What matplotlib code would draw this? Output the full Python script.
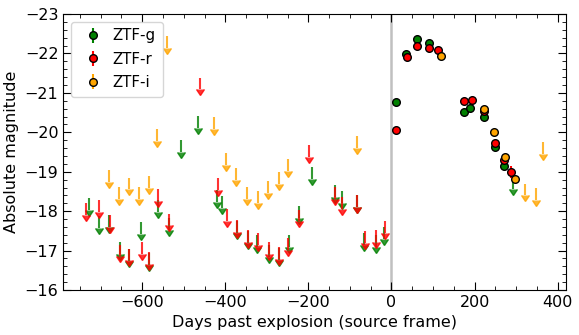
import matplotlib
matplotlib.use("Agg")
import matplotlib.pyplot as plt
from matplotlib.ticker import MultipleLocator
import numpy as np

plt.rcParams['font.family'] = ['DejaVu Sans']
plt.rcParams['font.size'] = 11.5

# ---- detections ----
g_det_t = [10, 34, 62, 90, 175, 189, 223, 249, 271]
g_det_m = [-20.76, -21.98, -22.37, -22.26, -20.51, -20.61, -20.38, -19.62, -19.14]
g_det_e = [0.04, 0.04, 0.04, 0.04, 0.05, 0.05, 0.05, 0.05, 0.06]

r_det_t = [10, 37, 62, 90, 112, 175, 194, 223, 249, 270, 288]
r_det_m = [-20.06, -21.90, -22.20, -22.15, -22.08, -20.79, -20.82, -20.55, -19.74, -19.31, -18.99]
r_det_e = [0.04, 0.04, 0.04, 0.04, 0.04, 0.05, 0.05, 0.05, 0.05, 0.06, 0.15]

i_det_t = [119, 223, 247, 273, 297]
i_det_m = [-21.93, -20.59, -20.00, -19.37, -18.81]
i_det_e = [0.04, 0.08, 0.05, 0.08, 0.08]

# ---- upper limits ----
g_lim_t = [-728, -703, -679, -653, -631, -603, -583, -561, -535, -506, -466, -420, -407,
           -373, -345, -324, -296, -271, -247, -223, -192, -136, -120, -84, -67, -38, -18, 292]
g_lim_m = [-18.33, -17.87, -17.90, -17.22, -17.03, -17.72, -16.94, -18.28, -17.83, -19.80,
           -20.41, -18.53, -18.38, -17.75, -17.50, -17.39, -17.14, -17.07, -17.39, -18.13,
           -19.12, -18.66, -18.51, -18.40, -17.45, -17.39, -17.59, -18.85]

r_lim_t = [-735, -705, -677, -653, -631, -601, -583, -562, -536, -462, -418, -396, -373,
           -345, -322, -296, -271, -248, -223, -199, -136, -119, -84, -64, -38, -16]
r_lim_m = [-18.21, -18.29, -17.90, -17.15, -17.05, -17.21, -16.96, -18.56, -17.94, -21.39,
           -18.84, -18.05, -17.77, -17.52, -17.45, -17.21, -17.09, -17.31, -18.04, -19.68,
           -18.62, -18.36, -18.40, -17.49, -17.52, -17.75]

i_lim_t = [-681, -657, -633, -607, -583, -564, -541, -427, -399, -374, -347, -321, -297,
           -270, -248, -84, 321, 349, 364]
i_lim_m = [-19.04, -18.62, -18.85, -18.62, -18.90, -20.08, -22.44, -20.39, -19.48, -19.10,
           -18.62, -18.51, -18.76, -19.00, -19.32, -19.90, -18.70, -18.58, -19.76]

bands = [
    ("ZTF-g", "green", g_det_t, g_det_m, g_det_e, g_lim_t, g_lim_m),
    ("ZTF-r", "red", r_det_t, r_det_m, r_det_e, r_lim_t, r_lim_m),
    ("ZTF-i", "orange", i_det_t, i_det_m, i_det_e, i_lim_t, i_lim_m),
]

fig = plt.figure(figsize=(5.79, 3.35), dpi=100)
ax = fig.add_axes([0.1093, 0.1343, 0.8682, 0.8238])
ax.set_xlim(-790, 420)
ax.set_ylim(-16, -23)

ax.axvline(0, color='#c0c0c0', lw=1.8, zorder=1)

arrow_len = 0.3
for label, col, dt, dm, de, lt, lm in bands:
    eb = ax.errorbar(lt, lm, yerr=np.full(len(lt), arrow_len), lolims=True, fmt='none',
                     ecolor=col, elinewidth=1.5, capsize=0, alpha=0.8, zorder=2)
    for cl in eb[1]:
        cl.set_markersize(5.5)
        cl.set_color(col)
        cl.set_markerfacecolor(col)
        cl.set_markeredgecolor(col)
for label, col, dt, dm, de, lt, lm in bands:
    ax.errorbar(dt, dm, yerr=de, fmt='o', color=col, mfc=col, mec='black', mew=1.0,
                ms=5.5, ecolor=col, elinewidth=1.5, capsize=0,
                label=label, zorder=3)

ax.set_xlabel("Days past explosion (source frame)")
ax.set_ylabel("Absolute magnitude")

ax.xaxis.set_major_locator(MultipleLocator(200))
ax.xaxis.set_minor_locator(MultipleLocator(50))
ax.yaxis.set_major_locator(MultipleLocator(1))
ax.yaxis.set_minor_locator(MultipleLocator(0.2))
ax.tick_params(which='both', direction='in', top=True, right=True)
ax.tick_params(which='major', length=6)
ax.tick_params(which='minor', length=3)

leg = ax.legend(loc='upper left', fontsize=10.8, handletextpad=0.35, borderpad=0.45,
                labelspacing=0.55)

fig.savefig("out.png", dpi=100)
